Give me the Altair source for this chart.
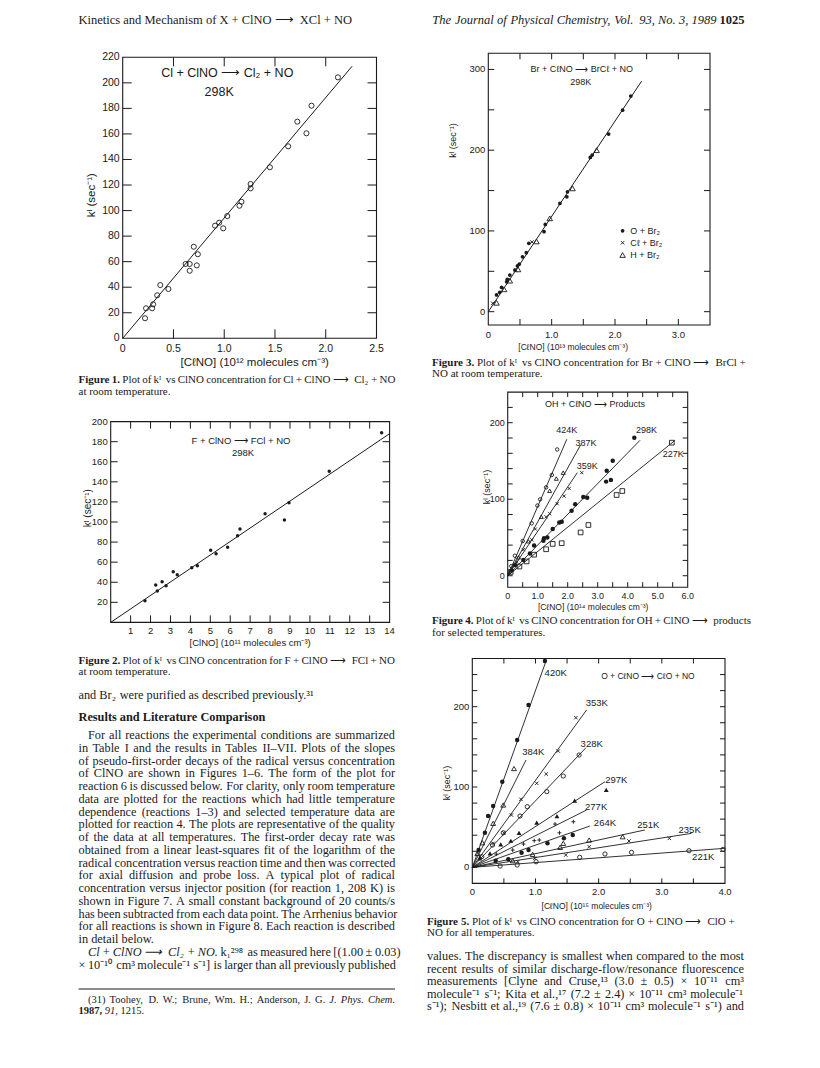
import altair as alt
import pandas as pd

# ------------------------------------------------------------------
# Values read from the scanned page
# ------------------------------------------------------------------
# Figure 1: Cl + ClNO -> Cl2 + NO, 298 K
F1_X = [0.22, 0.23, 0.29, 0.30, 0.34, 0.37, 0.45, 0.62, 0.66, 0.66, 0.70, 0.73, 0.74,
        0.91, 0.95, 0.99, 1.03, 1.15, 1.17, 1.26, 1.26, 1.45, 1.63, 1.72, 1.81, 1.86, 2.12]
F1_Y = [15.7, 23.5, 23.5, 26.6, 33.7, 41.7, 38.6, 58.2, 52.9, 58.2, 71.7, 57.1, 65.8,
        88.2, 90.5, 86.1, 95.7, 103.8, 106.9, 117.4, 120.8, 133.9, 150.3, 169.6, 160.5, 182.1, 204.3]
F1_FIT_X = [0.0, 2.26]
F1_FIT_Y = [0.0, 213.0]
F1_XT = [0, 0.5, 1.0, 1.5, 2.0, 2.5]
F1_XL = ["0", "0.5", "1.0", "1.5", "2.0", "2.5"]
F1_YT = [0, 20, 40, 60, 80, 100, 120, 140, 160, 180, 200, 220]
F1_YL = ["0", "20", "40", "60", "80", "100", "120", "140", "160", "180", "200", "220"]

# Figure 2: F + ClNO -> FCl + NO, 298 K
F2_X = [1.72, 2.26, 2.34, 2.58, 2.78, 3.14, 3.34, 4.07, 4.35, 5.02, 5.29, 5.87, 6.37, 6.49,
        7.75, 8.72, 8.95, 10.97, 13.6]
F2_Y = [21.6, 37.2, 31.3, 40.5, 36.6, 50.5, 47.5, 54.5, 56.5, 71.8, 68.4, 74.8, 86.4, 93.0,
        108.3, 102.0, 119.2, 150.5, 189.0]
F2_FIT_X = [0.0, 14.0]
F2_FIT_Y = [0.0, 188.0]
F2_XT = [1, 2, 3, 4, 5, 6, 7, 8, 9, 10, 11, 12, 13, 14]
F2_XL = ["1", "2", "3", "4", "5", "6", "7", "8", "9", "10", "11", "12", "13", "14"]
F2_YT = [20, 40, 60, 80, 100, 120, 140, 160, 180, 200]
F2_YL = ["20", "40", "60", "80", "100", "120", "140", "160", "180", "200"]

# Figure 3: Br + ClNO -> BrCl + NO, 298 K
F3_O_X = [0.13, 0.18, 0.21, 0.29, 0.30, 0.34, 0.42, 0.46, 0.49, 0.54, 0.60, 0.64, 0.88,
          0.90, 1.13, 1.24, 1.25, 1.61, 1.64, 1.90, 2.12, 2.25]
F3_O_Y = [20.7, 24.0, 30.0, 37.0, 40.0, 45.4, 51.6, 56.6, 59.0, 68.0, 73.0, 84.6, 99.0,
          108.0, 134.0, 142.3, 148.5, 191.0, 194.0, 220.0, 249.6, 267.0]
F3_CL_X = [0.07, 0.43, 0.69]
F3_CL_Y = [10.5, 51.6, 86.3]
F3_H_X = [0.13, 0.25, 0.34, 0.47, 0.76, 0.97, 1.33, 1.71]
F3_H_Y = [11.0, 27.7, 38.4, 52.4, 87.0, 115.6, 152.7, 200.0]
F3_FIT_X = [0.0, 2.42]
F3_FIT_Y = [0.0, 285.5]
F3_XT = [0, 1.0, 2.0, 3.0]
F3_XL = ["0", "1.0", "2.0", "3.0"]
F3_YT = [0, 100, 200, 300]
F3_YL = ["0", "100", "200", "300"]
F3_LEGEND = ["O + Br₂", "Cℓ + Br₂", "H + Br₂"]

# Figure 4: OH + ClNO -> products
F4_T = ["424K", "387K", "359K", "298K", "227K"]
F4_424_X = [0.12, 0.24, 0.50, 0.80, 0.99, 1.08, 1.28, 1.47, 1.65]
F4_424_Y = [12.6, 26.1, 45.4, 68.5, 91.7, 99.8, 115.5, 131.6, 165.0]
F4_387_X = [0.36, 0.69, 1.12, 1.40, 1.62, 1.85]
F4_387_Y = [24.0, 45.0, 77.0, 111.0, 127.0, 134.7]
F4_359_X = [0.30, 0.52, 0.80, 0.92, 1.28, 1.40, 1.65, 1.88, 2.05, 2.47]
F4_359_Y = [18.0, 34.0, 47.0, 61.0, 77.0, 81.0, 94.0, 104.0, 114.0, 134.7]
F4_298_X = [0.13, 0.24, 0.52, 0.74, 0.88, 1.19, 1.21, 1.32, 1.50, 1.72, 1.80, 2.13, 2.25,
            2.52, 2.65, 3.28, 3.44, 3.30, 3.50, 4.22]
F4_298_Y = [7.0, 14.0, 20.5, 29.0, 39.6, 45.8, 49.0, 50.0, 61.0, 69.7, 70.6, 85.0, 93.5,
            103.0, 102.0, 123.0, 125.0, 137.3, 150.4, 180.4]
F4_227_X = [0.10, 0.39, 0.63, 0.88, 1.28, 1.50, 1.80, 2.43, 2.69, 3.63, 3.82, 5.47]
F4_227_Y = [5.0, 12.0, 18.7, 27.5, 34.6, 41.6, 42.5, 56.6, 66.3, 105.5, 110.7, 173.9]
F4_FIT_X2 = [1.97, 2.43, 2.32, 4.41, 5.58]
F4_FIT_Y2 = [178.3, 171.0, 134.7, 177.0, 177.0]
F4_XT = [0, 1.0, 2.0, 3.0, 4.0, 5.0, 6.0]
F4_XL = ["0", "1.0", "2.0", "3.0", "4.0", "5.0", "6.0"]
F4_YT = [0, 100, 200]
F4_YL = ["0", "100", "200"]

# Figure 5: O + ClNO -> ClO + NO
F5_T = ["420K", "384K", "353K", "328K", "297K", "277K", "264K", "251K", "235K", "221K"]
F5_420_X = [0.10, 0.20, 0.25, 0.33, 0.475, 0.71, 0.89, 1.15]
F5_420_Y = [21.5, 43.0, 63.9, 76.3, 106.6, 158.5, 202.0, 257.0]
F5_384_X = [0.08, 0.16, 0.33, 0.49, 0.66]
F5_384_Y = [17.4, 30.6, 54.8, 77.6, 123.0]
F5_353_X = [0.12, 0.33, 0.50, 0.62, 0.77, 1.02, 1.17, 1.36, 1.64]
F5_353_Y = [13.2, 29.9, 43.0, 65.1, 84.7, 104.6, 116.2, 144.8, 186.3]
F5_328_X = [0.15, 0.32, 0.49, 0.755, 0.87, 1.18, 1.44, 1.69]
F5_328_Y = [13.3, 27.8, 43.0, 63.9, 75.5, 94.2, 113.7, 139.8]
F5_297_X = [0.12, 0.28, 0.45, 0.61, 0.74, 1.02, 1.34, 1.62, 2.12]
F5_297_Y = [11.2, 17.4, 28.6, 33.1, 43.0, 55.6, 63.9, 83.0, 96.3]
F5_277_X = [0.38, 0.64, 0.81, 0.98, 1.06, 1.31, 1.38, 1.60]
F5_277_Y = [16.5, 21.5, 29.0, 33.2, 34.0, 53.9, 43.0, 56.8]
F5_264_X = [0.37, 0.57, 0.78, 0.89, 1.19, 1.45, 1.59]
F5_264_Y = [8.3, 10.0, 18.2, 21.5, 29.9, 36.1, 40.2]
F5_251_X = [0.64, 0.955, 1.39, 1.44, 1.85, 2.38]
F5_251_Y = [8.3, 16.2, 24.9, 29.9, 34.0, 38.1]
F5_235_X = [0.72, 0.99, 1.48, 1.85, 2.48, 3.12]
F5_235_Y = [7.0, 11.2, 15.3, 25.7, 32.8, 36.1]
F5_221_X = [0.44, 0.71, 1.01, 1.70, 2.10, 2.52, 3.43, 3.97]
F5_221_Y = [1.6, 2.9, 7.0, 12.5, 16.6, 18.7, 20.7, 22.4]
F5_FIT_X2 = [1.17, 0.85, 1.81, 1.80, 2.10, 1.81, 1.86, 2.73, 3.47, 4.00]
F5_FIT_Y2 = [257.5, 133.6, 196.0, 149.0, 106.6, 71.4, 51.4, 46.5, 42.3, 23.7]
F5_XT = [0, 1.0, 2.0, 3.0, 4.0]
F5_XL = ["0", "1.0", "2.0", "3.0", "4.0"]
F5_YT = [0, 100, 200]
F5_YL = ["0", "100", "200"]

# Page text (segments: text, style  n=roman, i=italic, b=bold)
HEAD_LEFT = [("Kinetics and Mechanism of X + ClNO ⟶ XCl + NO", "n")]
HEAD_RIGHT = [("The Journal of Physical Chemistry, Vol. 93, No. 3, 1989", "i"), ("1025", "b")]
CAP1 = [[("Figure 1.", "b"), ("Plot of kᴵ vs ClNO concentration for Cl + ClNO ⟶ Cl₂ + NO", "n")],
        [("at room temperature.", "n")]]
CAP2 = [[("Figure 2.", "b"), ("Plot of kᴵ vs ClNO concentration for F + ClNO ⟶ FCl + NO", "n")],
        [("at room temperature.", "n")]]
CAP3 = [[("Figure 3.", "b"), ("Plot of kᴵ vs ClNO concentration for Br + ClNO ⟶ BrCl +", "n")],
        [("NO at room temperature.", "n")]]
CAP4 = [[("Figure 4.", "b"), ("Plot of kᴵ vs ClNO concentration for OH + ClNO ⟶ products", "n")],
        [("for selected temperatures.", "n")]]
CAP5 = [[("Figure 5.", "b"), ("Plot of kᴵ vs ClNO concentration for O + ClNO ⟶ ClO +", "n")],
        [("NO for all temperatures.", "n")]]
LEFT_INTRO = [("and Br₂ were purified as described previously.³¹", "n")]
LEFT_HEAD = [("Results and Literature Comparison", "b")]
LEFT_BODY = [
    "For all reactions the experimental conditions are summarized",
    "in Table I and the results in Tables II–VII.  Plots of the slopes",
    "of pseudo-first-order decays of the radical versus concentration",
    "of ClNO are shown in Figures 1–6.   The form of the plot for",
    "reaction 6 is discussed below.  For clarity, only room temperature",
    "data are plotted for the reactions which had little temperature",
    "dependence (reactions 1–3) and selected temperature data are",
    "plotted for reaction 4.  The plots are representative of the quality",
    "of the data at all temperatures.  The first-order decay rate was",
    "obtained from a linear least-squares fit of the logarithm of the",
    "radical concentration versus reaction time and then was corrected",
    "for axial diffusion and probe loss.  A typical plot of radical",
    "concentration versus injector position (for reaction 1, 208 K) is",
    "shown in Figure 7.  A small constant background of 20 counts/s",
    "has been subtracted from each data point.  The Arrhenius behavior",
    "for all reactions is shown in Figure 8.  Each reaction is described",
    "in detail below.",
]
LEFT_BODY2 = [
    [("Cl + ClNO ⟶ Cl₂ + NO.", "i"), ("k₁²⁹⁸ as measured here [(1.00 ± 0.03)", "n")],
    [("× 10⁻¹⁰ cm³ molecule⁻¹ s⁻¹] is larger than all previously published", "n")],
]
FOOT = [
    [("(31) Toohey, D. W.; Brune, Wm. H.; Anderson, J. G.", "n"), ("J. Phys. Chem.", "i")],
    [("1987,", "b"), ("91,", "i"), ("1215.", "n")],
]
RIGHT_BODY = [
    "values.  The discrepancy is smallest when compared to the most",
    "recent results of similar discharge-flow/resonance fluorescence",
    "measurements [Clyne and Cruse,¹³ (3.0 ± 0.5) × 10⁻¹¹ cm³",
    "molecule⁻¹ s⁻¹; Kita et al.,¹⁷ (7.2 ± 2.4) × 10⁻¹¹ cm³ molecule⁻¹",
    "s⁻¹); Nesbitt et al.,¹⁹ (7.6 ± 0.8) × 10⁻¹¹ cm³ molecule⁻¹ s⁻¹) and",
]

# ------------------------------------------------------------------
# Styling / layout helpers
# ------------------------------------------------------------------
M = 8.0
W, H = 804, 1052
INK = "#1a1a1a"
SANS = "Liberation Sans"
SERIF = "Liberation Serif"
SHAPE_X = "M-1,-1L1,1M1,-1L-1,1"
SHAPE_PLUS = "M-1,0L1,0M0,-1L0,1"

# Times (= Liberation Serif) advance widths, 1/1000 em
_TR = dict(zip(" !\"#$%&'()*+,-./:;<=>?@[]", [250, 333, 408, 500, 500, 833, 778, 333, 333, 333, 500, 564,
                                                250, 333, 250, 278, 278, 278, 564, 564, 564, 444, 921, 333, 333]))
_TR.update(dict(zip("ABCDEFGHIJKLMNOPQRSTUVWXYZ", [722, 667, 667, 722, 611, 556, 722, 722, 333, 389, 722, 611, 889,
                                                   722, 722, 556, 722, 667, 556, 611, 722, 722, 944, 722, 722, 611])))
_TR.update(dict(zip("abcdefghijklmnopqrstuvwxyz", [444, 500, 444, 500, 444, 333, 500, 500, 278, 278, 500, 278, 778,
                                                   500, 500, 500, 500, 333, 389, 278, 500, 500, 722, 500, 500, 444])))
_TR.update({c: 500 for c in "0123456789"})
_TR.update({"–": 500, "×": 564, "±": 564, "→": 1000, "⟶": 1750, "¹": 300, "²": 300, "³": 300})
_TB = dict(_TR)
_TB.update(dict(zip("FRLCabcdefghijklmnopqrstuvwxyz", [611, 722, 667, 722, 500, 556, 444, 556, 444, 333, 500, 556,
                                                       278, 333, 556, 278, 833, 556, 500, 556, 556, 444, 389, 333,
                                                       556, 500, 722, 500, 500, 444])))
_TI = dict(_TR)
_TI.update(dict(zip("CNOJPaehklmnrsy+", [667, 667, 722, 444, 611, 500, 444, 500, 444, 278, 722, 500, 389, 389, 444, 675])))
_TABLES = {"n": _TR, "b": _TB, "i": _TI}


def tw(s, st, size):
    t = _TABLES[st]
    return sum(t.get(c, 400) for c in s) * size / 1000.0


def lay(segs, x0, x1, y, size, justify=True):
    words = []
    for text, st in segs:
        for w in text.split():
            words.append((w, st))
    widths = [tw(w, st, size) for w, st in words]
    gap = 0.25 * size
    if justify and len(words) > 1:
        gap = max((x1 - x0 - sum(widths)) / (len(words) - 1), 0.2 * size)
    rows, x = [], x0
    for (w, st), wd in zip(words, widths):
        rows.append(dict(x=x - M, y=y - M, t=w, st=st, size=size))
        x += wd + gap
    return rows


def lay_right(segs, xr, y, size):
    words = []
    for text, st in segs:
        for w in text.split():
            words.append((w, st))
    total = sum(tw(w, st, size) for w, st in words) + 0.25 * size * (len(words) - 1)
    return lay(segs, xr - total, xr, y, size, justify=False)


def lscale(dom, px):
    return alt.Scale(domain=list(dom), range=[px[0] - M, px[1] - M], nice=False, zero=False)


class Panel:
    def __init__(self, xdom, xpx, ydom, ypx):
        self.xs = lscale(xdom, xpx)
        self.ys = lscale(ydom, ypx)
        self.kx = (xpx[1] - xpx[0]) / (xdom[1] - xdom[0])
        self.ky = (ypx[0] - ypx[1]) / (ydom[1] - ydom[0])
        self.layers = []

    def enc(self, **extra):
        d = dict(x=alt.X("x:Q", scale=self.xs, axis=None), y=alt.Y("y:Q", scale=self.ys, axis=None))
        d.update(extra)
        return d

    def frame(self, fx, fy, sw=1.1):
        df = pd.DataFrame({"x": [fx[0]], "x2": [fx[1]], "y": [fy[0]], "y2": [fy[1]]})
        self.layers.append(alt.Chart(df).mark_rect(fillOpacity=0, stroke=INK, strokeWidth=sw).encode(
            **self.enc(x2=alt.X2("x2"), y2=alt.Y2("y2"))))

    def ticks(self, fx, fy, xt, yt, tl=7, sides="lrtb", sw=1.0):
        rows = []
        dx = tl / self.kx
        dy = tl / self.ky
        for t in xt:
            if "b" in sides:
                rows.append((t, t, fy[0], fy[0] + dy))
            if "t" in sides:
                rows.append((t, t, fy[1], fy[1] - dy))
        for t in yt:
            if "l" in sides:
                rows.append((fx[0], fx[0] + dx, t, t))
            if "r" in sides:
                rows.append((fx[1], fx[1] - dx, t, t))
        df = pd.DataFrame(rows, columns=["x", "x2", "y", "y2"])
        self.layers.append(alt.Chart(df).mark_rule(color=INK, strokeWidth=sw).encode(
            **self.enc(x2=alt.X2("x2"), y2=alt.Y2("y2"))))

    def xlabels(self, vals, labs, ybase, dy=10, size=10):
        df = pd.DataFrame({"x": vals, "y": [ybase] * len(vals), "t": labs})
        self.layers.append(alt.Chart(df).mark_text(font=SANS, fontSize=size, dy=dy, color=INK,
                                                   align="center", baseline="middle").encode(
            **self.enc(text="t:N")))

    def ylabels(self, vals, labs, xbase, dx=-4, size=10):
        df = pd.DataFrame({"x": [xbase] * len(vals), "y": vals, "t": labs})
        self.layers.append(alt.Chart(df).mark_text(font=SANS, fontSize=size, dx=dx, color=INK,
                                                   align="right", baseline="middle").encode(
            **self.enc(text="t:N")))

    def points(self, xs, ys, shape="circle", filled=False, size=22, sw=0.9):
        df = pd.DataFrame({"x": xs, "y": ys})
        self.layers.append(alt.Chart(df).mark_point(shape=shape, filled=filled, size=size, color=INK,
                                                    strokeWidth=sw, opacity=1).encode(**self.enc()))

    def segments(self, x1, y1, x2, y2, sw=1.0):
        df = pd.DataFrame({"x": x1, "y": y1, "x2": x2, "y2": y2})
        self.layers.append(alt.Chart(df).mark_rule(color=INK, strokeWidth=sw).encode(
            **self.enc(x2=alt.X2("x2"), y2=alt.Y2("y2"))))

    def text(self, xs, ys, ts, size=10, align="center", angle=0, font=SANS, dy=0):
        df = pd.DataFrame({"x": xs, "y": ys, "t": ts})
        kw = dict(font=font, fontSize=size, color=INK, align=align, baseline="middle")
        if angle:
            kw["angle"] = angle
        if dy:
            kw["dy"] = dy
        self.layers.append(alt.Chart(df).mark_text(**kw).encode(**self.enc(text="t:N")))

    def chart(self):
        return alt.layer(*self.layers)


# ------------------------------------------------------------------
# Figure 1
# ------------------------------------------------------------------
p1 = Panel((0, 2.5), (122.7, 376.5), (0, 220), (338.3, 57.3))
p1.frame((0, 2.5), (0, 220))
p1.ticks((0, 2.5), (0, 220), [0.5, 1.0, 1.5, 2.0], F1_YT[1:-1], tl=9)
p1.segments([F1_FIT_X[0]], [F1_FIT_Y[0]], [F1_FIT_X[1]], [F1_FIT_Y[1]])
p1.points(F1_X, F1_Y, "circle", False, size=26)
p1.xlabels(F1_XT, F1_XL, 0, dy=11, size=10.5)
p1.ylabels(F1_YT, F1_YL, 0, dx=-3, size=10.5)
p1.text([1.03], [207.7], ["Cl + ClNO ⟶ Cl₂ + NO"], size=12.5)
p1.text([0.95], [192.8], ["298K"], size=12.5)
p1.text([1.30], [0], ["[CℓNO]   (10¹² molecules  cm⁻³)"], size=11.5, dy=25)
p1.text([-0.30], [112], ["kᴵ (sec⁻¹)"], size=11.5, angle=270)

# ------------------------------------------------------------------
# Figure 2
# ------------------------------------------------------------------
p2 = Panel((0, 14), (110.7, 389.6), (0, 200), (622.4, 421.6))
p2.frame((0, 14), (0, 200))
p2.ticks((0, 14), (0, 200), F2_XT[:-1], F2_YT[:-1], tl=7)
p2.segments([F2_FIT_X[0]], [F2_FIT_Y[0]], [F2_FIT_X[1]], [F2_FIT_Y[1]])
p2.points(F2_X, F2_Y, "circle", True, size=12)
p2.xlabels(F2_XT, F2_XL, 0, dy=9, size=9.5)
p2.ylabels(F2_YT, F2_YL, 0, dx=-3, size=9.5)
p2.text([6.54], [180.7], ["F + ClNO ⟶ FCl + NO"], size=9.5)
p2.text([6.64], [169.0], ["298K"], size=9.5)
p2.text([7.0], [0], ["[ClNO]  (10¹¹ molecules  cm⁻³)"], size=9.5, dy=21)
p2.text([-1.14], [113.8], ["kᴵ (sec⁻¹)"], size=10, angle=270)

# ------------------------------------------------------------------
# Figure 3
# ------------------------------------------------------------------
p3 = Panel((0, 3.5), (488.3, 710.0), (-16.5, 320), (325.0, 53.3))
p3.frame((0, 3.5), (-16.5, 320))
p3.ticks((0, 3.5), (-16.5, 320), [0.5, 1.0, 1.5, 2.0, 2.5, 3.0], [0, 50, 100, 150, 200, 250, 300], tl=6)
p3.segments([F3_FIT_X[0]], [F3_FIT_Y[0]], [F3_FIT_X[1]], [F3_FIT_Y[1]])
p3.points(F3_O_X, F3_O_Y, "circle", True, size=14)
p3.points(F3_CL_X, F3_CL_Y, SHAPE_X, False, size=12)
p3.points(F3_H_X, F3_H_Y, "triangle-up", False, size=30)
p3.points([2.12], [100.2], "circle", True, size=14)
p3.points([2.12], [85.4], SHAPE_X, False, size=12)
p3.points([2.12], [70.2], "triangle-up", False, size=30)
p3.text([2.24, 2.24, 2.24], [100.2, 85.4, 70.2], F3_LEGEND, size=9, align="left")
p3.xlabels(F3_XT, F3_XL, -16.5, dy=10, size=9.5)
p3.ylabels(F3_YT, F3_YL, 0, dx=-3, size=9.5)
p3.text([1.475], [300], ["Br + CℓNO ⟶ BrCℓ + NO"], size=9)
p3.text([1.46], [284.7], ["298K"], size=9)
p3.text([1.34], [-16.5], ["[CℓNO]  (10¹³ molecules  cm⁻³)"], size=8.5, dy=22)
p3.text([-0.56], [212], ["kᴵ  (sec⁻¹)"], size=9, angle=270)

# ------------------------------------------------------------------
# Figure 4
# ------------------------------------------------------------------
p4 = Panel((0, 6), (507.7, 687.7), (-15, 240), (587.2, 392.1))
p4.frame((0, 6), (-15, 240))
p4.ticks((0, 6), (-15, 240), [0.5, 1, 1.5, 2, 2.5, 3, 3.5, 4, 4.5, 5, 5.5],
         [0, 20, 40, 60, 80, 100, 120, 140, 160, 180, 200, 220], tl=5)
p4.segments([0] * 5, [0] * 5, F4_FIT_X2, F4_FIT_Y2, sw=0.9)
p4.points(F4_424_X, F4_424_Y, "circle", False, size=12)
p4.points(F4_387_X, F4_387_Y, "triangle-up", False, size=16)
p4.points(F4_359_X, F4_359_Y, SHAPE_X, False, size=10)
p4.points(F4_298_X, F4_298_Y, "circle", True, size=20)
p4.points(F4_227_X, F4_227_Y, "square", False, size=22)
p4.text([1.97, 2.61, 2.65, 4.63, 5.52], [190.5, 173.9, 143.4, 190.5, 159.0], F4_T, size=9)
p4.xlabels(F4_XT, F4_XL, -15, dy=9, size=9)
p4.ylabels(F4_YT, F4_YL, 0, dx=-3, size=9)
p4.text([2.91], [224.4], ["OH + CℓNO ⟶ Products"], size=9)
p4.text([2.85], [-15], ["[CℓNO]  (10¹⁴ molecules  cm⁻³)"], size=8.5, dy=20)
p4.text([-0.7], [116], ["kᴵ (sec⁻¹)"], size=9, angle=270)

# ------------------------------------------------------------------
# Figure 5
# ------------------------------------------------------------------
p5 = Panel((0, 4), (472.3, 725.0), (-20, 260), (883.4, 658.5))
p5.frame((0, 4), (-20, 260))
p5.ticks((0, 4), (-20, 260), [0.5, 1, 1.5, 2, 2.5, 3, 3.5],
         [0, 20, 40, 60, 80, 100, 120, 140, 160, 180, 200, 220, 240], tl=5)
p5.segments([0] * 10, [0] * 10, F5_FIT_X2, F5_FIT_Y2, sw=0.9)
p5.points(F5_420_X, F5_420_Y, "circle", True, size=20)
p5.points(F5_384_X, F5_384_Y, "triangle-up", False, size=24)
p5.points(F5_353_X, F5_353_Y, SHAPE_X, False, size=12)
p5.points(F5_328_X, F5_328_Y, "circle", False, size=18)
p5.points(F5_297_X, F5_297_Y, "triangle-up", True, size=24)
p5.points(F5_277_X, F5_277_Y, SHAPE_PLUS, False, size=16)
p5.points(F5_264_X, F5_264_Y, "circle", True, size=20)
p5.points(F5_251_X, F5_251_Y, "triangle-up", False, size=24)
p5.points(F5_235_X, F5_235_Y, SHAPE_X, False, size=12)
p5.points(F5_221_X, F5_221_Y, "circle", False, size=18)
p5.text([1.32, 0.965, 1.97, 1.89, 2.28, 1.96, 2.10, 2.785, 3.44, 3.655],
        [242.3, 144.0, 204.0, 153.0, 108.7, 75.5, 54.8, 52.7, 46.4, 13.2], F5_T, size=9.5)
p5.xlabels(F5_XT, F5_XL, -20, dy=9, size=9.5)
p5.ylabels(F5_YT, F5_YL, 0, dx=-3, size=9.5)
p5.text([2.78], [238.3], ["O + CℓNO ⟶ CℓO + NO"], size=8.5)
p5.text([1.97], [-20], ["[CℓNO]  (10¹⁵ molecules  cm⁻³)"], size=8.5, dy=23)
p5.text([-0.405], [105], ["kᴵ (sec⁻¹)"], size=9, angle=270)

# ------------------------------------------------------------------
# Page text (justified columns)
# ------------------------------------------------------------------
BODY, CAPS, FOOTS, HEADS = 12.3, 11.0, 10.5, 12.5
LX0, LX1, LIND = 78.5, 395.0, 88.0
RX0, RX1 = 427.0, 744.0
LH = 12.75

rows = []
rows += lay(HEAD_LEFT, 78.5, 400, 20, HEADS, justify=False)
rows += lay_right(HEAD_RIGHT, 744.5, 20, HEADS)


def caption(cap, x0, x1, y, lh=11.5, justify=True):
    out = lay(cap[0], x0, x1, y, CAPS, justify=justify)
    out += lay(cap[1], x0, x1, y + lh, CAPS, justify=False)
    return out


rows += caption(CAP1, LX0, LX1, 380)
rows += caption(CAP2, LX0, LX1, 660.7)
rows += caption(CAP3, RX0 + 5, RX1, 362.7, justify=False)
rows += caption(CAP4, RX0 + 5, RX1, 621)
rows += caption(CAP5, RX0, RX1, 921.7, justify=False)

rows += lay(LEFT_INTRO, LX0, LX1, 695, BODY, justify=False)
rows += lay(LEFT_HEAD, LX0, LX1, 717, BODY, justify=False)
y = 735.0
for i, line in enumerate(LEFT_BODY):
    x0 = LIND if i == 0 else LX0
    rows += lay([(line, "n")], x0, LX1, y, BODY, justify=(i < len(LEFT_BODY) - 1))
    y += LH
rows += lay(LEFT_BODY2[0], LIND, LX1, y, BODY, justify=True)
y += LH
rows += lay(LEFT_BODY2[1], LX0, LX1, y, BODY, justify=True)
rows += lay(FOOT[0], LIND, LX1, 1000, FOOTS, justify=True)
rows += lay(FOOT[1], LX0, LX1, 1011, FOOTS, justify=False)

y = 956.0
for line in RIGHT_BODY:
    rows += lay([(line, "n")], RX0, RX1, y, BODY, justify=True)
    y += 12.5

tdf = pd.DataFrame(rows)
XID = alt.Scale(domain=[0, W], range=[0, W], nice=False, zero=False)
YID = alt.Scale(domain=[0, H], range=[0, H], nice=False, zero=False)
text_layers = []
for (st, size), g in tdf.groupby(["st", "size"]):
    kw = dict(font=SERIF, fontSize=float(size), align="left", baseline="middle", color=INK)
    if st == "i":
        kw["fontStyle"] = "italic"
    if st == "b":
        kw["fontWeight"] = "bold"
    text_layers.append(alt.Chart(g[["x", "y", "t"]].reset_index(drop=True)).mark_text(**kw).encode(
        x=alt.X("x:Q", scale=XID, axis=None), y=alt.Y("y:Q", scale=YID, axis=None), text="t:N"))

rule_df = pd.DataFrame({"x": [LX0 - M], "x2": [LX1 - M], "y": [989 - M]})
foot_rule = alt.Chart(rule_df).mark_rule(color=INK, strokeWidth=1).encode(
    x=alt.X("x:Q", scale=XID, axis=None), x2=alt.X2("x2"), y=alt.Y("y:Q", scale=YID, axis=None))

chart = alt.layer(
    p1.chart(), p2.chart(), p3.chart(), p4.chart(), p5.chart(), foot_rule, *text_layers
).resolve_scale(
    x="independent", y="independent"
).properties(
    width=W, height=H, padding=0,
    autosize=alt.AutoSizeParams(type="none"),
    background="white",
).configure_view(strokeOpacity=0)

chart.save("out.html", embed_options={"renderer": "svg", "actions": False})
